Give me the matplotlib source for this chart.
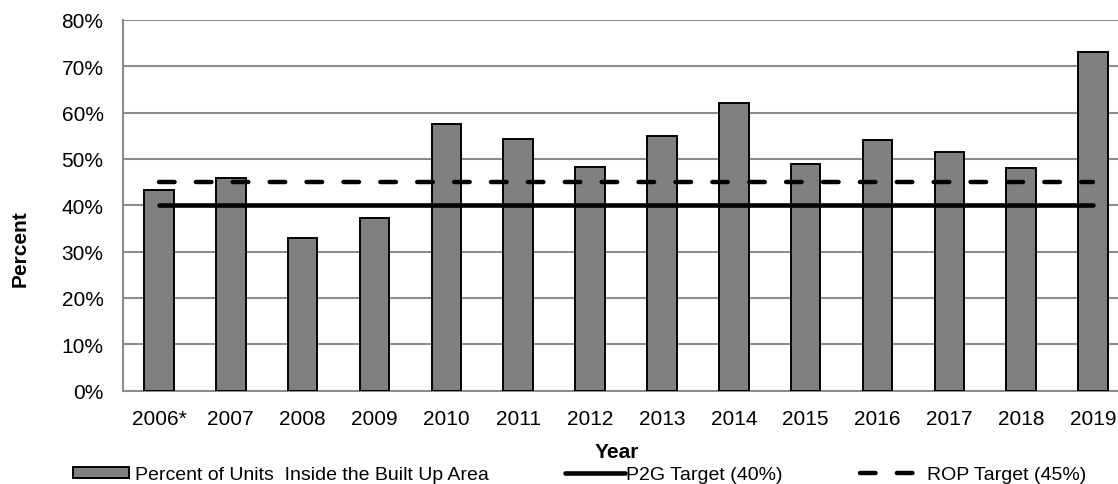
import matplotlib
matplotlib.use("Agg")
import matplotlib.pyplot as plt
from matplotlib.ticker import PercentFormatter

plt.rcParams['font.family'] = ['Liberation Sans', 'DejaVu Sans']

# data
years = ["2006*", "2007", "2008", "2009", "2010", "2011", "2012",
         "2013", "2014", "2015", "2016", "2017", "2018", "2019"]
pct_inside = [43.2, 46.0, 32.9, 37.2, 57.5, 54.3, 48.2,
              55.0, 62.1, 48.9, 54.1, 51.6, 48.1, 73.1]
p2g_target = 40
rop_target = 45

W, H = 1118, 485
fig = plt.figure(figsize=(W / 100, H / 100), dpi=100)

# plot area runs past the right edge of the picture (cropped in the original)
left, right, top, bottom = 123, 1129, 21, 391.6
ax = fig.add_axes([left / W, 1 - bottom / H, (right - left) / W, (bottom - top) / H])

x = list(range(len(years)))
bars = ax.bar(x, pct_inside, width=0.41, color="#808080", edgecolor="black",
              linewidth=1.4, zorder=3, label="Percent of Units  Inside the Built Up Area")
p2g, = ax.plot([x[0], x[-1]], [p2g_target] * 2, color="black", lw=3.3,
               solid_capstyle="round", zorder=4, label="P2G Target (40%)")
rop, = ax.plot([x[0], x[-1]], [rop_target] * 2, color="black", lw=3.2,
               dash_capstyle="round", zorder=4, label="ROP Target (45%)")
rop.set_dashes((3.5, 4.8))

ax.set_xlim(-0.5, len(years) - 0.5)
ax.set_ylim(0, 80)
ax.set_yticks(range(0, 81, 10))
ax.yaxis.set_major_formatter(PercentFormatter(decimals=0))
ax.set_xticks(x)
ax.set_xticklabels(years)
ax.tick_params(axis="both", length=0, labelsize=15, colors="black")
ax.tick_params(axis="y", pad=14)
ax.tick_params(axis="x", pad=13.5)

ax.grid(axis="y", color="#8c8c8c", lw=1.5, zorder=0)
ax.set_axisbelow(True)
for s in ["top", "right"]:
    ax.spines[s].set_visible(False)
for s in ["left", "bottom"]:
    ax.spines[s].set_color("#8c8c8c")
    ax.spines[s].set_linewidth(1.5)

fig.text(617 / W, 1 - 453 / H, "Year", ha="center", va="center",
         fontsize=15, fontweight="bold")
fig.text(20 / W, 1 - 249 / H, "Percent", ha="center", va="center",
         rotation=90, fontsize=15, fontweight="bold")

# legend entries placed one by one to match spacing
legend_spots = [(bars, 73, 2.9, 0.3), (p2g, 565, 3.1, 0.05), (rop, 860, 3.35, 0.1)]
for handle, px, hl, tp in legend_spots:
    lg = fig.legend([handle], [handle.get_label()], loc="center left",
                    bbox_to_anchor=(px / W, 1 - 476 / H), frameon=False,
                    fontsize=14, handlelength=hl, handleheight=0.47,
                    handletextpad=tp, borderpad=0, borderaxespad=0)

fig.savefig("out.png", dpi=100)
